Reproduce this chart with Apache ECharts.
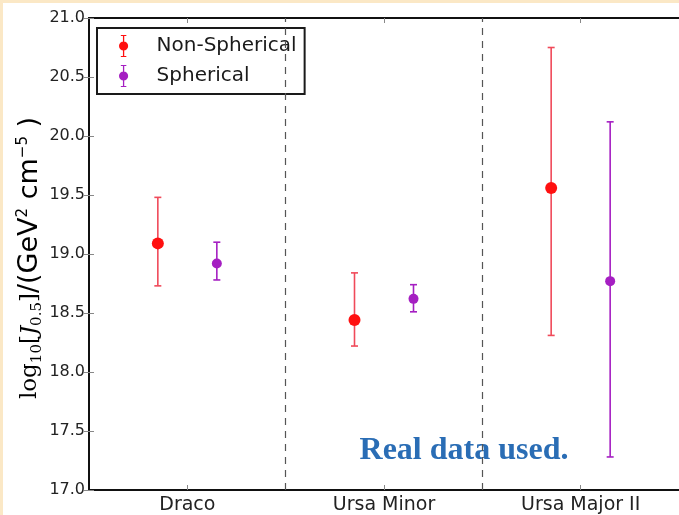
<!DOCTYPE html>
<html>
<head>
<meta charset="utf-8">
<script src="https://cdn.jsdelivr.net/npm/echarts@6/dist/echarts.min.js"></script>
<style>
html,body{margin:0;padding:0;background:#fff;}
#chart{width:679px;height:515px;}
</style>
</head>
<body>
<div id="chart"></div>
<script>
const categories = ['Draco', 'Ursa Minor', 'Ursa Major II'];
const nonSpherical = [19.09, 18.44, 19.56];
const nonSphericalLow = [18.73, 18.22, 18.31];
const nonSphericalHigh = [19.48, 18.84, 20.75];
const spherical = [18.92, 18.62, 18.77];
const sphericalLow = [18.78, 18.51, 17.28];
const sphericalHigh = [19.10, 18.74, 20.12];
const yTicks = [17.0, 17.5, 18.0, 18.5, 19.0, 19.5, 20.0, 20.5, 21.0];
const separators = [1, 2];

const OFFSET = 0.15;
const catPos = categories.map((c, i) => i + 0.5);

function pts(vals, lo, hi, off) {
  return vals.map((v, i) => [catPos[i] + off, v, lo[i], hi[i]]);
}
const nsData = pts(nonSpherical, nonSphericalLow, nonSphericalHigh, -OFFSET);
const spData = pts(spherical, sphericalLow, sphericalHigh, OFFSET);

function errRender(color, width) {
  return function (params, api) {
    const x = api.value(0);
    const lo = api.coord([x, api.value(2)]);
    const hi = api.coord([x, api.value(3)]);
    const cap = 3.5;
    const style = { stroke: color, lineWidth: width, fill: null };
    return {
      type: 'group',
      children: [
        { type: 'line', shape: { x1: lo[0], y1: lo[1], x2: hi[0], y2: hi[1] }, style },
        { type: 'line', shape: { x1: lo[0] - cap, y1: lo[1], x2: lo[0] + cap, y2: lo[1] }, style },
        { type: 'line', shape: { x1: hi[0] - cap, y1: hi[1], x2: hi[0] + cap, y2: hi[1] }, style }
      ]
    };
  };
}

const RED = '#ff1010';
const RED_BAR = '#f04a5a';
const PURPLE = '#a51fc2';

const legendIcon = 'path://M5.3,0 H6.7 V24 H5.3 Z M3,0 H9 V1.2 H3 Z M3,22.8 H9 V24 H3 Z M6,7 A5,5 0 1 1 5.99,7 Z';

const chart = echarts.init(document.getElementById('chart'), null, { renderer: 'canvas' });
chart.setOption({
  animation: false,
  backgroundColor: '#ffffff',
  grid: { left: 89, top: 18, right: -2, bottom: 25, containLabel: false },
  legend: {
    left: 97, top: 28, orient: 'vertical',
    data: ['Non-Spherical', 'Spherical'],
    icon: legendIcon,
    itemWidth: 12, itemHeight: 22, itemGap: 8,
    padding: [7, 8, 7, 22],
    borderColor: '#1a1a1a', borderWidth: 2, borderRadius: 0,
    backgroundColor: '#fff',
    textStyle: { fontFamily: 'DejaVu Sans', fontSize: 20, color: '#1a1a1a', padding: [0, 0, 0, 22] }
  },
  xAxis: [{
    type: 'value', min: 0, max: 3, interval: 0.5,
    position: 'bottom',
    axisLine: { show: true, onZero: false, lineStyle: { color: '#111', width: 2 } },
    axisTick: { show: true, inside: true, length: 5, customValues: catPos, lineStyle: { color: '#888' } },
    axisLabel: {
      customValues: catPos,
      formatter: v => categories[Math.round(v - 0.5)] || '',
      fontFamily: 'DejaVu Sans', fontSize: 19, color: '#222', margin: 6
    },
    splitLine: { show: false }
  }, {
    type: 'value', min: 0, max: 3, interval: 0.5,
    position: 'top',
    axisLine: { show: true, onZero: false, lineStyle: { color: '#111', width: 2 } },
    axisTick: { show: true, inside: true, length: 5, customValues: catPos, lineStyle: { color: '#888' } },
    axisLabel: { show: false },
    splitLine: { show: false }
  }],
  yAxis: [{
    type: 'value', min: 17, max: 21, interval: 0.5,
    axisLine: { show: true, lineStyle: { color: '#111', width: 2 } },
    axisTick: { show: true, inside: true, length: 5, lineStyle: { color: '#888' } },
    axisLabel: {
      formatter: v => v.toFixed(1),
      fontFamily: 'DejaVu Sans', fontSize: 16, color: '#222', margin: 4
    },
    splitLine: { show: false }
  }, {
    type: 'value', min: 17, max: 21, interval: 0.5, position: 'right',
    axisLine: { show: true, lineStyle: { color: '#111', width: 2 } },
    axisTick: { show: true, inside: true, length: 5, lineStyle: { color: '#888' } },
    axisLabel: { show: false },
    splitLine: { show: false }
  }],
  series: [
    {
      name: 'Non-Spherical', type: 'custom', data: nsData,
      encode: { x: 0, y: [1, 2, 3] },
      renderItem: errRender(RED_BAR, 1.6),
      itemStyle: { color: RED }, z: 3
    },
    {
      name: 'Non-Spherical', type: 'scatter', data: nsData.map(d => [d[0], d[1]]),
      symbol: 'circle', symbolSize: 12, itemStyle: { color: RED, opacity: 1 }, z: 4,
      markLine: {
        silent: true, symbol: 'none',
        label: { show: false },
        lineStyle: { color: '#555', type: [7, 6], width: 1.2 },
        data: separators.map(s => ({ xAxis: s }))
      }
    },
    {
      name: 'Spherical', type: 'custom', data: spData,
      encode: { x: 0, y: [1, 2, 3] },
      renderItem: errRender(PURPLE, 1.6),
      itemStyle: { color: PURPLE }, z: 3
    },
    {
      name: 'Spherical', type: 'scatter', data: spData.map(d => [d[0], d[1]]),
      symbol: 'circle', symbolSize: 10, itemStyle: { color: PURPLE, opacity: 1 }, z: 4
    }
  ],
  graphic: [
    { type: 'rect', left: 0, top: 0, shape: { width: 679, height: 3 }, style: { fill: '#fbe8c6' }, silent: true },
    { type: 'rect', left: 0, top: 0, shape: { width: 3, height: 515 }, style: { fill: '#fbe8c6' }, silent: true },
    {
      type: 'text', x: 464, y: 451,
      style: {
        text: 'Real data used.',
        font: 'bold 32px "Liberation Serif"',
        fill: '#2a6db5', align: 'center', verticalAlign: 'middle'
      }
    },
    {
      type: 'text', x: 30, y: 258, rotation: Math.PI / 2,
      style: {
        text: '{m|log}{s|10}{m|[}{i|J}{s|0.5}{m|]}{a|/(GeV}{p|2}{a| cm}{p|−5}{a| )}',
        align: 'center', verticalAlign: 'middle',
        rich: {
          m: { fontFamily: 'DejaVu Serif', fontSize: 23, color: '#222' },
          i: { fontFamily: 'DejaVu Serif', fontStyle: 'italic', fontSize: 23, color: '#222' },
          s: { fontFamily: 'DejaVu Serif', fontSize: 15, color: '#222', verticalAlign: 'bottom', padding: [10, 0, 0, 0] },
          a: { fontFamily: 'DejaVu Sans', fontSize: 27, color: '#222' },
          p: { fontFamily: 'DejaVu Sans', fontSize: 15, color: '#222', verticalAlign: 'top', padding: [0, 0, 14, 0] }
        }
      }
    }
  ]
});
</script>
</body>
</html>
